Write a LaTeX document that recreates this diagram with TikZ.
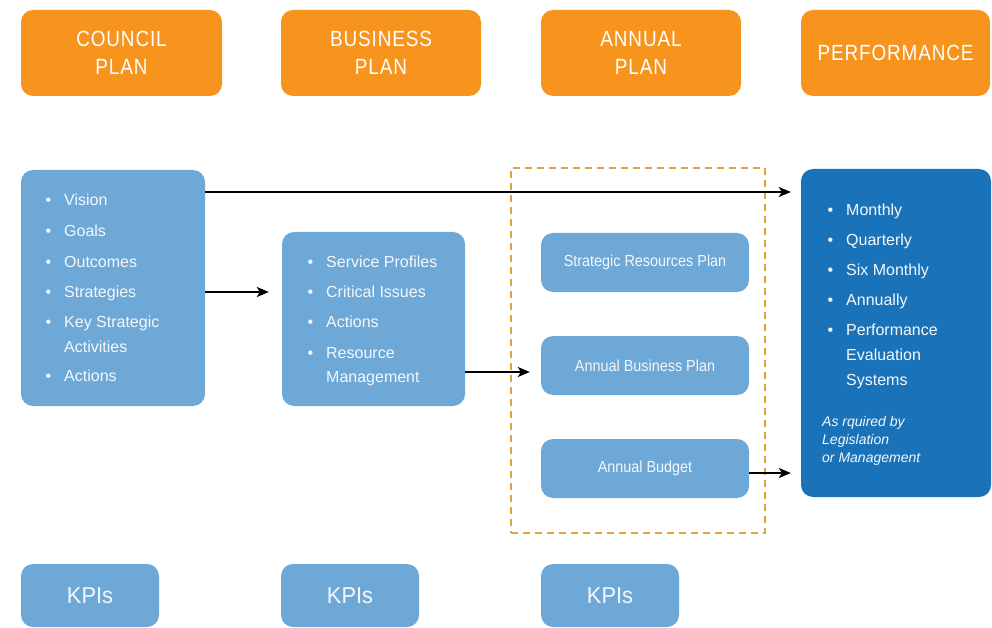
\documentclass[tikz,border=0pt]{standalone}
\usepackage{fontspec}
\setmainfont{Liberation Sans}
\newfontfamily\headfont{Liberation Sans}[FakeStretch=0.86,LetterSpace=4]
\newfontfamily\narrowfont{Liberation Sans}[FakeStretch=0.9]
\newfontfamily\kpifont{Liberation Sans}[FakeStretch=0.95]
\usetikzlibrary{arrows.meta}
\definecolor{planorange}{HTML}{F7941E}
\definecolor{paleblue}{HTML}{6DA8D7}
\definecolor{deepblue}{HTML}{1A73B9}
\definecolor{dashgold}{HTML}{DDA43C}
\definecolor{softwhite}{HTML}{F4F8FC}
\newcommand{\itemdot}{\llap{\textbullet\hspace{13pt}}}
\begin{document}
\begin{tikzpicture}[x=1pt,y=-1pt,
  header/.style={fill=planorange, rounded corners=12pt, text=white, inner sep=0pt,
    font=\headfont\fontsize{22}{28}\selectfont, align=center, minimum height=86pt},
  panel/.style={fill=paleblue, rounded corners=12pt, inner sep=0pt, text=softwhite},
  plannode/.style={panel, minimum width=208pt, minimum height=59pt,
    font=\narrowfont\fontsize{16}{18}\selectfont},
  kpi/.style={panel, minimum width=138pt, minimum height=63pt,
    font=\kpifont\fontsize{23}{26}\selectfont},
  item/.style={anchor=west, inner sep=0pt, text=softwhite, text height=11.5pt,
    text depth=0pt, font=\fontsize{16}{20}\selectfont},
  arr/.style={-{Stealth[length=12pt,width=10pt,inset=3pt]}, line width=1.8pt, black},
  group/.style={draw=dashgold, line width=1.6pt, dash pattern=on 7pt off 5pt,
    inner sep=0pt}
]
\useasboundingbox (0,0) rectangle (992,628);

% column headers
\node[header, minimum width=201pt] (hcouncil) at (121.5,53) {COUNCIL\\PLAN};
\node[header, minimum width=200pt] (hbusiness) at (381,53) {BUSINESS\\PLAN};
\node[header, minimum width=200pt] (hannual) at (641,53) {ANNUAL\\PLAN};
\node[header, minimum width=189pt] (hperf) at (895.5,53) {PERFORMANCE};

% council plan contents
\node[panel, minimum width=184pt, minimum height=236pt] (council) at (113,288) {};
\foreach \txt/\yy [count=\i] in {Vision/200, Goals/231, Outcomes/262, Strategies/292,
    Key Strategic/322, Actions/376}
  \node[item] (cp\i) at (64,\yy) {\itemdot\txt};
\node[item] (cpcont) at (64,347) {Activities};

% business plan contents
\node[panel, minimum width=183pt, minimum height=174pt] (business) at (373.5,319) {};
\foreach \txt/\yy [count=\i] in {Service Profiles/262, Critical Issues/292,
    Actions/322, Resource/353}
  \node[item] (bp\i) at (326,\yy) {\itemdot\txt};
\node[item] (bpcont) at (326,377) {Management};

% annual plan group
\node[group, minimum width=254pt, minimum height=365pt] (annualgroup) at (638,350.5) {};
\node[plannode] (srp) at (645,262.5) {Strategic Resources Plan};
\node[plannode] (abp) at (645,365.5) {Annual Business Plan};
\node[plannode] (budget) at (645,468.5) {Annual Budget};

% performance reporting
\node[panel, fill=deepblue, minimum width=190pt, minimum height=328pt] (perf) at (896,333) {};
\foreach \txt/\yy [count=\i] in {Monthly/210, Quarterly/240, Six Monthly/270,
    Annually/300, Performance/330}
  \node[item] (pf\i) at (846,\yy) {\itemdot\txt};
\node[item] (pfcont1) at (846,355) {Evaluation};
\node[item] (pfcont2) at (846,380) {Systems};
\node[anchor=north west, inner sep=0pt, align=left, text=softwhite,
  font=\itshape\fontsize{14}{18}\selectfont] (pfnote) at (822,416)
  {As rquired by\\Legislation\\or Management};

% key performance indicators
\node[kpi] (kpi1) at (90,595.5) {KPIs};
\node[kpi] (kpi2) at (350,595.5) {KPIs};
\node[kpi] (kpi3) at (610,595.5) {KPIs};

% flows between the plans
\draw[arr, shorten >=10pt] (council.east |- 0,192) -- (perf.west |- 0,192);
\draw[arr, shorten >=13pt] (council.east |- 0,292) -- (business.west |- 0,292);
\draw[arr, shorten >=11pt] (business.east |- 0,372) -- (abp.west |- 0,372);
\draw[arr, shorten >=10pt] (budget.east |- 0,473) -- (perf.west |- 0,473);
\end{tikzpicture}
\end{document}
